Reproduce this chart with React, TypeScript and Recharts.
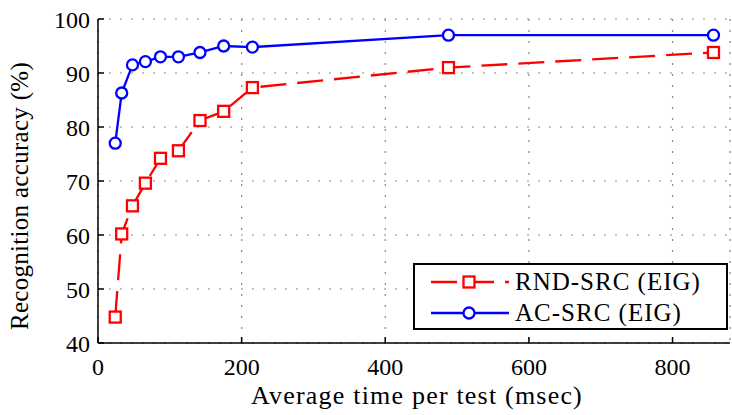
import React from "react";
import {
  LineChart,
  Line,
  XAxis,
  YAxis,
  CartesianGrid,
  Legend,
} from "recharts";

const timeMs = [24, 33, 48, 66, 87, 112, 142, 175, 215, 488, 857];
const accRND = [44.8, 60.2, 65.4, 69.6, 74.2, 75.6, 81.2, 82.9, 87.3, 91.0, 93.8];
const accAC = [77.0, 86.3, 91.5, 92.1, 93.0, 93.0, 93.8, 95.0, 94.8, 97.0, 97.0];
const xTicks = [0, 200, 400, 600, 800];
const yTicks = [40, 50, 60, 70, 80, 90, 100];
const seriesNames = ["RND-SRC (EIG)", "AC-SRC (EIG)"];

const data = timeMs.map((t, i) => ({ time: t, rnd: accRND[i], ac: accAC[i] }));

const FONT = "'Liberation Serif', 'DejaVu Serif', serif";
const RED = "#ff0000";
const BLUE = "#0000ff";
const LW = 2.3;

const SquareDot = (props: any) => {
  const { cx, cy, index } = props;
  if (cx == null || cy == null) return <g key={`sq-${index}`} />;
  return (
    <rect
      key={`sq-${index}`}
      x={cx - 5.5}
      y={cy - 5.5}
      width={11}
      height={11}
      fill="#fff"
      stroke={RED}
      strokeWidth={LW}
    />
  );
};

const LegendBox = () => (
  <div
    style={{
      border: "2px solid #000",
      background: "#fff",
      width: 311,
      height: 63,
      boxSizing: "content-box",
      fontFamily: FONT,
      fontSize: 25,
      letterSpacing: 1,
      color: "#000",
    }}
  >
    {[0, 1].map((i) => (
      <div
        key={i}
        style={{ display: "flex", alignItems: "center", height: 31, marginTop: i === 0 ? 1 : 0 }}
      >
        <svg width={96} height={20} style={{ marginLeft: 14 }}>
          {i === 0 ? (
            <g>
              <line x1={2} y1={10} x2={80} y2={10} stroke={RED} strokeWidth={LW} strokeDasharray="26 11" />
              <rect x={34.5} y={4.5} width={11} height={11} fill="#fff" stroke={RED} strokeWidth={LW} />
            </g>
          ) : (
            <g>
              <line x1={2} y1={10} x2={80} y2={10} stroke={BLUE} strokeWidth={LW} />
              <circle cx={40} cy={10} r={5.5} fill="#fff" stroke={BLUE} strokeWidth={LW} />
            </g>
          )}
        </svg>
        <span style={{ marginLeft: -10, whiteSpace: "nowrap" }}>{seriesNames[i]}</span>
      </div>
    ))}
  </div>
);

const YLabel = () => (
  <text
    x={22}
    y={196}
    transform="rotate(-90, 22, 196)"
    textAnchor="middle"
    dominantBaseline="middle"
    style={{ fontFamily: FONT, letterSpacing: 0.3 }}
    fontSize={25}
    fill="#000"
  >
    Recognition accuracy (%)
  </text>
);

const XLabel = () => (
  <text
    x={417}
    y={398}
    textAnchor="middle"
    dominantBaseline="middle"
    style={{ fontFamily: FONT, letterSpacing: 1.2 }}
    fontSize={26}
    fill="#000"
  >
    Average time per test (msec)
  </text>
);

export default function App() {
  return (
    <div style={{ position: "fixed", left: 0, top: 0, width: 732, height: 415, background: "#fff" }}>
      <LineChart
        width={732}
        height={415}
        data={data}
        margin={{ top: 19, right: 2, bottom: 0, left: 0 }}
      >
        <CartesianGrid stroke="#888" strokeDasharray="2 9" strokeWidth={1.2} />
        <XAxis
          xAxisId={0}
          dataKey="time"
          type="number"
          domain={[0, 880]}
          ticks={xTicks}
          height={72}
          axisLine={{ stroke: "#000", strokeWidth: 1.5 }}
          tickLine={{ stroke: "#000", strokeWidth: 1.5 }}
          tickSize={-6}
          tickMargin={21}
          tick={{ fill: "#000", fontSize: 24, style: { fontFamily: FONT } }}
          label={<XLabel />}
        />
        <XAxis
          xAxisId="top"
          dataKey="time"
          type="number"
          orientation="top"
          domain={[0, 880]}
          ticks={xTicks}
          height={0}
          axisLine={{ stroke: "#000", strokeWidth: 1.5 }}
          tickLine={{ stroke: "#000", strokeWidth: 1.5 }}
          tickSize={-6}
          tick={false}
        />
        <YAxis
          yAxisId={0}
          type="number"
          domain={[40, 100]}
          ticks={yTicks}
          width={98}
          axisLine={{ stroke: "#000", strokeWidth: 1.5 }}
          tickLine={{ stroke: "#000", strokeWidth: 1.5 }}
          tickSize={-6}
          tickMargin={14}
          tick={{ fill: "#000", fontSize: 24, style: { fontFamily: FONT } }}
          label={<YLabel />}
        />
        <YAxis
          yAxisId="right"
          type="number"
          orientation="right"
          domain={[40, 100]}
          ticks={yTicks}
          width={0}
          axisLine={{ stroke: "#000", strokeWidth: 1.5 }}
          tickLine={{ stroke: "#000", strokeWidth: 1.5 }}
          tickSize={-6}
          tick={false}
        />
        <Line
          dataKey="rnd"
          name={seriesNames[0]}
          type="linear"
          stroke={RED}
          strokeWidth={LW}
          strokeDasharray="26 11"
          dot={SquareDot}
          activeDot={false}
          isAnimationActive={false}
        />
        <Line
          dataKey="ac"
          name={seriesNames[1]}
          type="linear"
          stroke={BLUE}
          strokeWidth={LW}
          dot={{ r: 5.5, fill: "#fff", stroke: BLUE, strokeWidth: LW }}
          activeDot={false}
          isAnimationActive={false}
        />
        <Legend
          layout="horizontal"
          verticalAlign="middle"
          align="center"
          content={<LegendBox />}
          wrapperStyle={{ position: "absolute", left: 413, top: 263, width: 315, margin: 0 }}
        />
      </LineChart>
    </div>
  );
}
